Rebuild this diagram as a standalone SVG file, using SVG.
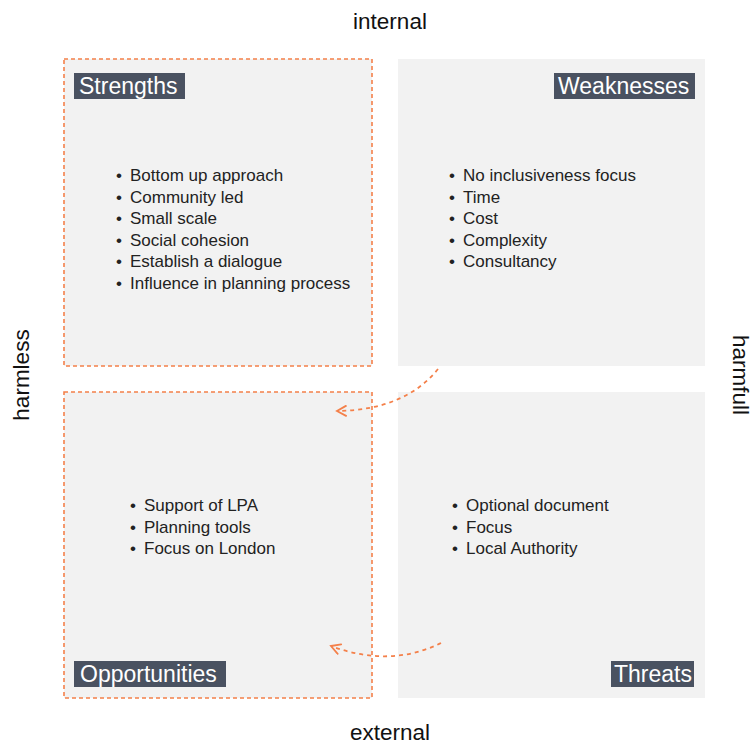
<svg xmlns="http://www.w3.org/2000/svg" width="753" height="744" viewBox="0 0 753 744">
<style>
.box{fill:#f2f2f2}
.sel{fill:none;stroke:#f4804a;stroke-width:1.6;stroke-dasharray:4 3}
.lab{fill:#4a5261}
.labt{font-family:"Liberation Sans",Arial,sans-serif;font-size:23px;fill:#ffffff}
.item{font-family:"Liberation Sans",Arial,sans-serif;font-size:17px;fill:#222222}
.axis{font-family:"Liberation Sans",Arial,sans-serif;font-size:22.5px;fill:#111111}
.arr{fill:none;stroke:#f4804a;stroke-width:1.8;stroke-dasharray:4 4}
.head{fill:none;stroke:#f4804a;stroke-width:1.8;stroke-linecap:round}
</style>
<defs>
<marker id="ah" markerWidth="14" markerHeight="14" refX="11" refY="6" orient="auto" markerUnits="userSpaceOnUse">
<path d="M2,1 L11,6 L2,11" class="head"/>
</marker>
</defs>
<g id="axes">
<text class="axis" x="390" y="29" text-anchor="middle">internal</text>
<text class="axis" x="390" y="740" text-anchor="middle">external</text>
<text class="axis" transform="translate(29,375) rotate(-90)" text-anchor="middle">harmless</text>
<text class="axis" transform="translate(733,375) rotate(90)" text-anchor="middle">harmfull</text>
</g>
<g id="strengths">
<rect class="box" x="64" y="59" width="308" height="307"/>
<rect class="sel" x="64" y="59" width="308" height="307"/>
<rect class="lab" x="74" y="73" width="111" height="26"/>
<text class="labt" x="79" y="94">Strengths</text>
<text class="item" x="116" y="181">•<tspan x="130">Bottom up approach</tspan></text>
<text class="item" x="116" y="202.5">•<tspan x="130">Community led</tspan></text>
<text class="item" x="116" y="224">•<tspan x="130">Small scale</tspan></text>
<text class="item" x="116" y="245.5">•<tspan x="130">Social cohesion</tspan></text>
<text class="item" x="116" y="267">•<tspan x="130">Establish a dialogue</tspan></text>
<text class="item" x="116" y="288.5">•<tspan x="130">Influence in planning process</tspan></text>
</g>
<g id="weaknesses">
<rect class="box" x="398" y="59" width="307" height="307"/>
<rect class="lab" x="554" y="73" width="141" height="26"/>
<text class="labt" x="558" y="94">Weaknesses</text>
<text class="item" x="449" y="181">•<tspan x="463">No inclusiveness focus</tspan></text>
<text class="item" x="449" y="202.5">•<tspan x="463">Time</tspan></text>
<text class="item" x="449" y="224">•<tspan x="463">Cost</tspan></text>
<text class="item" x="449" y="245.5">•<tspan x="463">Complexity</tspan></text>
<text class="item" x="449" y="267">•<tspan x="463">Consultancy</tspan></text>
</g>
<g id="opportunities">
<rect class="box" x="64" y="392" width="308" height="306"/>
<rect class="sel" x="64" y="392" width="308" height="306"/>
<rect class="lab" x="74" y="661" width="152" height="26"/>
<text class="labt" x="80" y="682">Opportunities</text>
<text class="item" x="130" y="511">•<tspan x="144">Support of LPA</tspan></text>
<text class="item" x="130" y="532.5">•<tspan x="144">Planning tools</tspan></text>
<text class="item" x="130" y="554">•<tspan x="144">Focus on London</tspan></text>
</g>
<g id="threats">
<rect class="box" x="398" y="392" width="307" height="306"/>
<rect class="lab" x="611" y="661" width="83" height="26"/>
<text class="labt" x="614" y="682">Threats</text>
<text class="item" x="452" y="511">•<tspan x="466">Optional document</tspan></text>
<text class="item" x="452" y="532.5">•<tspan x="466">Focus</tspan></text>
<text class="item" x="452" y="554">•<tspan x="466">Local Authority</tspan></text>
</g>
<g id="connectors">
<path class="arr" d="M438,369 Q405,410 337,411" marker-end="url(#ah)"/>
<path class="arr" d="M441,643 Q390,668 331,646" marker-end="url(#ah)"/>
</g>
</svg>
